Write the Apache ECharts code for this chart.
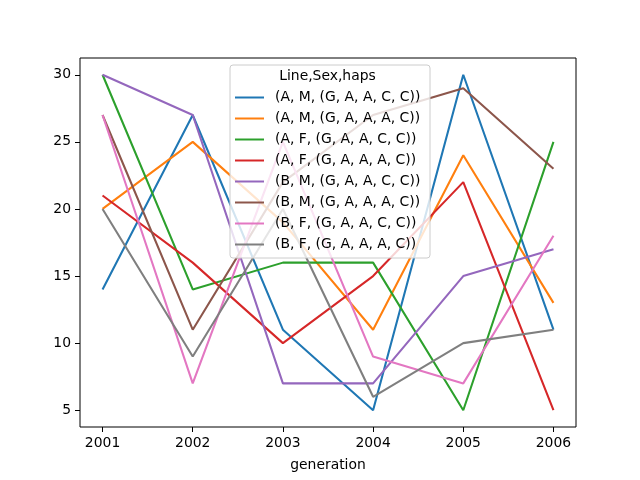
<!DOCTYPE html>
<html>
<head>
<meta charset="utf-8">
<script src="https://cdn.jsdelivr.net/npm/echarts@6/dist/echarts.min.js"></script>
<style>html,body{margin:0;padding:0;background:#fff}#c{width:640px;height:480px}</style>
</head>
<body>
<div id="c"></div>
<script>
var years = [2001, 2002, 2003, 2004, 2005, 2006];
var yTicks = [5, 10, 15, 20, 25, 30];
var legendTitle = 'Line,Sex,haps';
var seriesNames = [
  '(A, M, (G, A, A, C, C))',
  '(A, M, (G, A, A, A, C))',
  '(A, F, (G, A, A, C, C))',
  '(A, F, (G, A, A, A, C))',
  '(B, M, (G, A, A, C, C))',
  '(B, M, (G, A, A, A, C))',
  '(B, F, (G, A, A, C, C))',
  '(B, F, (G, A, A, A, C))'
];
var s_AM_GAACC = [14, 27, 11, 5, 30, 11];
var s_AM_GAAAC = [20, 25, 19, 11, 24, 13];
var s_AF_GAACC = [30, 14, 16, 16, 5, 25];
var s_AF_GAAAC = [21, 16, 10, 15, 22, 5];
var s_BM_GAACC = [30, 27, 7, 7, 15, 17];
var s_BM_GAAAC = [27, 11, 22, 27, 29, 23];
var s_BF_GAACC = [27, 7, 25, 9, 7, 18];
var s_BF_GAAAC = [20, 9, 20, 6, 10, 11];
var allValues = [s_AM_GAACC, s_AM_GAAAC, s_AF_GAACC, s_AF_GAAAC, s_BM_GAACC, s_BM_GAAAC, s_BF_GAACC, s_BF_GAAAC];
var colors = ['#1f77b4', '#ff7f0e', '#2ca02c', '#d62728', '#9467bd', '#8c564b', '#e377c2', '#7f7f7f'];

var font = 'DejaVu Sans';
var fs = 13.9;
var series = allValues.map(function (vals, i) {
  return {
    name: seriesNames[i],
    type: 'line',
    symbol: 'none',
    data: vals.map(function (v, j) { return [years[j], v]; }),
    lineStyle: { width: 2.08, color: colors[i] },
    itemStyle: { color: colors[i] },
    emphasis: { disabled: true },
    animation: false
  };
});

var chart = echarts.init(document.getElementById('c'), null, { renderer: 'canvas' });
chart.setOption({
  animation: false,
  color: colors,
  title: {
    text: legendTitle,
    left: 327.5,
    textAlign: 'center',
    top: 69,
    padding: 0,
    textStyle: { fontFamily: font, fontSize: fs, fontWeight: 'normal', color: '#000' }
  },
  grid: {
    left: 80, right: 64, top: 58, bottom: 53,
    show: true, borderColor: '#000', borderWidth: 1, backgroundColor: 'transparent'
  },
  legend: {
    orient: 'vertical',
    left: 230, top: 65,
    width: 195,
    padding: [22, 5, 3, 5],
    backgroundColor: 'rgba(255,255,255,0.8)',
    borderColor: '#cccccc',
    borderWidth: 1,
    borderRadius: 3,
    icon: 'rect',
    itemWidth: 29,
    itemHeight: 2,
    itemGap: 0,
    selectedMode: false,
    textStyle: { fontFamily: font, fontSize: fs, color: '#000', lineHeight: 21, padding: [0, 0, 0, 6], width: 150 },
    data: seriesNames
  },
  xAxis: {
    type: 'value',
    min: 2000.75, max: 2006.25,
    name: 'generation',
    nameLocation: 'middle',
    nameGap: 31,
    nameTextStyle: { fontFamily: font, fontSize: fs, color: '#000' },
    axisLine: { show: false },
    splitLine: { show: false },
    axisTick: { show: true, inside: false, length: 5, lineStyle: { color: '#000' }, customValues: years },
    axisLabel: { fontFamily: font, fontSize: fs, color: '#000', margin: 9, customValues: years, formatter: function (v) { return String(v); } }
  },
  yAxis: {
    type: 'value',
    min: 3.75, max: 31.25,
    axisLine: { show: false },
    splitLine: { show: false },
    axisTick: { show: true, inside: false, length: 5, lineStyle: { color: '#000' }, customValues: yTicks },
    axisLabel: { fontFamily: font, fontSize: fs, color: '#000', margin: 9, customValues: yTicks }
  },
  series: series
});
</script>
</body>
</html>
